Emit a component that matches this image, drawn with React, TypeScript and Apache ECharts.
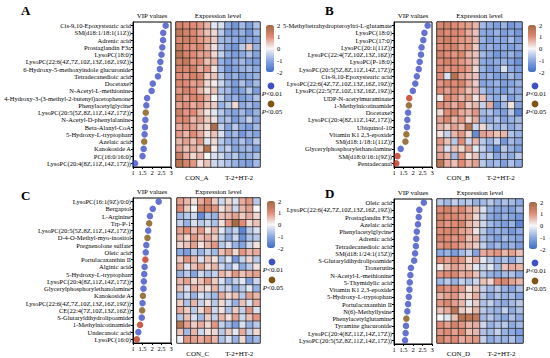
import React, { useEffect, useRef } from 'react';
import * as echarts from 'echarts';

// ---------- DATA ----------
const namesA = [
  'Cis-9,10-Epoxystearic acid', 'SM(d18:1/18:1(11Z))', 'Adrenic acid', 'Prostaglandin F3a', 'LysoPC(18:0)',
  'LysoPC(22:6(4Z,7Z,10Z,13Z,16Z,19Z))', '6-Hydroxy-5-methoxyindole glucuronide', 'Tetradecanedioic acid', 'Docetaxel',
  'N-Acetyl-L-methionine', '4-Hydroxy-3-(3-methyl-2-butenyl)acetophenone', 'Phenylacetylglycine',
  'LysoPC(20:5(5Z,8Z,11Z,14Z,17Z))', 'N-Acetyl-D-phenylalanine', 'Beta-Alanyl-CoA', '5-Hydroxy-L-tryptophan',
  'Azelaic acid', 'Kanokoside A', 'PC(16:0/16:0)', 'LysoPC(20:4(8Z,11Z,14Z,17Z))'
];
const vipA = [2.72, 2.59, 2.58, 2.54, 2.5, 2.44, 2.41, 2.31, 2.04, 1.98, 1.74, 1.7, 1.67, 1.65, 1.63, 1.61, 1.59, 1.56, 1.5, 1.11];
const sigA = ['b','b','b','b','b','b','b','b','b','b','b','b','o','b','b','b','o','b','b','b'];
const exprA = [
  [1.2, 1.0, 1.0, 0.9, 0.6, -0.2, -0.3, -1.0, -1.3, -0.8, -1.2, -0.7],
  [1.5, 1.2, 1.1, 0.8, 0.5, 0.3, -0.6, -1.2, -1.1, -0.9, -1.3, -0.8],
  [1.1, 1.3, 1.2, 0.9, 0.7, 0.4, -0.8, -0.9, -1.0, -1.2, -1.0, -1.1],
  [1.4, 1.0, 0.9, 1.1, 0.6, 0.2, -0.7, -1.1, -1.3, -0.6, 0.4, -0.9],
  [1.6, 1.2, 1.0, 0.8, 0.8, 0.3, -0.5, -1.0, -1.2, -1.0, -0.7, -1.1],
  [1.3, 1.5, 0.9, 1.0, 0.5, 0.6, -0.9, -1.2, -1.0, -0.8, -1.1, -1.2],
  [1.2, 1.1, 1.3, 0.7, 0.9, 0.2, -0.8, -1.3, -1.1, -0.9, -0.8, -1.0],
  [1.0, 0.9, 1.2, 1.1, 0.4, 0.5, -0.6, -1.1, -0.9, -1.2, -1.0, -0.9],
  [1.1, 1.0, 0.8, 0.9, 0.3, 0.1, -0.4, -0.9, -1.2, -0.7, -1.1, -0.8],
  [0.9, 1.2, 1.0, 0.6, 0.2, 0.5, -0.7, -0.8, -1.3, -1.1, -0.6, -1.2],
  [1.2, 0.8, 1.1, 1.0, 0.6, 0.0, -0.5, -1.0, -0.9, -1.2, -1.0, -0.7],
  [0.8, 1.0, 0.7, 0.9, 0.5, 0.4, -0.9, -0.6, 0.3, -1.0, -0.8, -1.1],
  [1.3, 0.9, 1.0, 0.6, 0.2, -0.2, -0.6, -1.0, -1.1, -0.8, -1.2, -0.9],
  [1.0, 1.1, 0.6, 0.8, 0.4, 0.2, -0.8, -0.7, -1.2, -0.9, -0.5, -1.0],
  [0.7, 0.9, 0.8, 0.5, 0.3, 1.8, -0.5, -1.1, -0.6, -1.0, -1.2, -0.8],
  [0.9, 0.6, 1.0, 0.7, 0.2, 0.5, -0.3, -1.0, -0.8, -1.3, -0.9, -1.1],
  [0.6, 0.8, 0.5, 0.9, -0.2, 0.3, -0.6, -0.9, -1.0, -0.7, -1.1, -0.6],
  [0.8, 0.5, 0.7, 0.4, 1.7, 0.1, -0.7, -0.5, -1.1, -0.9, -0.8, -1.2],
  [1.4, 0.7, 0.3, 0.6, 0.0, -0.3, -0.4, -0.8, -0.6, -1.0, -0.9, -0.7],
  [1.6, 1.2, 0.9, 0.2, 0.5, -0.4, -0.5, -0.7, -0.9, -1.1, -1.2, -0.8]
];

const namesB = [
  '5-Methyltetrahydropteroyltri-L-glutamate', 'LysoPC(18:0)', 'LysoPC(17:0)', 'LysoPC(20:1(11Z))',
  'LysoPC(22:4(7Z,10Z,13Z,16Z))', 'LysoPC(P-18:0)', 'LysoPC(20:5(5Z,8Z,11Z,14Z,17Z))', 'Cis-9,10-Epoxystearic acid',
  'LysoPC(22:6(4Z,7Z,10Z,13Z,16Z,19Z))', 'LysoPC(22:5(7Z,10Z,13Z,16Z,19Z))', 'UDP-N-acetylmuraminate',
  '1-Methylnicotinamide', 'Docetaxel', 'LysoPC(20:4(8Z,11Z,14Z,17Z))', 'Ubiquinol-10', 'Vitamin K1 2,3-epoxide',
  'SM(d18:1/18:1(11Z))', 'Glycerylphosphorylethanolamine', 'SM(d18:0/16:1(9Z))', 'Pentadecanal'
];
const vipB = [2.77, 2.6, 2.54, 2.45, 2.42, 2.35, 2.3, 2.2, 2.12, 1.99, 1.8, 1.78, 1.74, 1.7, 1.68, 1.65, 1.6, 1.35, 1.18, 1.12];
const sigB = ['b','b','b','b','b','b','b','b','b','b','r','o','b','b','b','o','o','b','r','r'];
const exprB = [
  [1.1, 1.2, 1.0, 0.9, 0.8, 0.6, -0.8, -1.0, -1.2, -0.9, -1.3, -1.1],
  [1.2, 1.0, 1.1, 1.0, 0.7, 0.5, -1.0, -1.1, -0.9, -1.2, -1.0, -1.3],
  [1.1, 1.3, 1.0, 0.9, 0.8, 0.6, -0.9, -1.2, -1.0, -1.1, -0.8, -1.2],
  [1.0, 1.1, 1.2, 0.8, 0.9, 0.4, -1.1, -0.9, -1.1, -1.0, -1.2, -1.0],
  [1.2, 1.0, 0.9, 1.1, 0.6, 0.5, -0.8, -1.0, -1.3, -1.1, -0.9, -1.2],
  [1.0, 1.2, 1.1, 0.9, 0.7, 0.5, -1.0, -1.1, -1.0, -0.9, -1.1, -1.4],
  [1.1, 0.9, 1.0, 1.0, 0.8, 0.3, -0.9, -1.2, -1.1, -0.3, -1.0, -1.2],
  [1.0, -0.3, 1.7, 0.8, 0.6, 0.5, -1.0, -0.9, -1.2, -1.1, -0.8, -1.1],
  [0.9, 1.1, 1.0, 1.2, 0.7, 0.4, -1.1, -1.0, -0.9, -1.2, -1.1, -0.9],
  [1.0, 0.8, 1.1, 0.9, 0.5, 0.6, -0.7, -1.1, -1.0, -1.3, -0.9, -1.0],
  [0.1, 1.0, 0.9, 0.6, 0.8, 0.2, 0.5, -0.8, -1.0, -0.6, -1.2, -0.9],
  [1.0, 0.9, 0.7, 1.1, 0.4, 0.6, -0.5, 0.7, -1.4, -0.8, 0.2, -1.1],
  [0.3, 1.0, 1.2, 0.7, 0.6, 0.9, -0.8, -0.7, -1.0, -1.2, -0.6, -1.6],
  [0.8, 1.1, 0.6, 0.9, 0.3, 0.7, -0.9, -1.0, -0.7, -1.1, -0.9, -0.8],
  [0.6, 0.4, 0.8, 0.5, 1.6, -0.4, 0.3, -0.6, -0.9, -0.7, -1.0, -0.8],
  [0.2, -0.5, 0.6, 0.9, 0.3, -1.5, 0.8, 0.7, 0.5, 0.6, -0.7, -0.9],
  [0.9, 0.5, -0.6, 1.0, -0.4, 0.6, -0.6, -0.9, -0.5, -1.3, -0.8, -1.0],
  [0.7, -0.3, 0.5, 0.3, 0.8, -0.2, -0.5, -1.0, -1.5, -0.6, -0.9, -1.2],
  [0.8, 0.6, -0.8, 0.9, 0.2, 0.5, -0.7, -0.5, -1.1, -0.8, -1.0, -0.6],
  [1.6, 0.7, 0.5, 1.0, 0.6, 0.8, -0.6, -0.9, -0.8, -1.2, -0.7, -1.0]
];

const namesC = [
  'LysoPC(16:1(9Z)/0:0)', 'Bergaptol', 'L-Arginine', 'Trp-P-1', 'LysoPC(20:5(5Z,8Z,11Z,14Z,17Z))',
  'D-4-O-Methyl-myo-inositol', 'Pregnenolone sulfate', 'Oleic acid', 'Portulacaxanthin II', 'Alginic acid',
  '5-Hydroxy-L-tryptophan', 'LysoPC(20:4(8Z,11Z,14Z,17Z))', 'Glycerylphosphorylethanolamine', 'Kanokoside A',
  'LysoPC(22:6(4Z,7Z,10Z,13Z,16Z,19Z))', 'CE(22:4(7Z,10Z,13Z,16Z))', 'S-Glutaryldihydrolipoamide',
  '1-Methylnicotinamide', 'Undecanoic acid', 'LysoPC(16:0)'
];
const vipC = [2.35, 2.04, 1.89, 1.85, 1.8, 1.76, 1.7, 1.67, 1.65, 1.61, 1.59, 1.57, 1.55, 1.52, 1.5, 1.48, 1.46, 1.37, 1.28, 1.2];
const sigC = ['b','b','b','o','b','o','b','b','r','b','b','b','b','o','b','o','b','r','b','r'];
const exprC = [
  [0.8, 0.6, 0.2, 0.7, 1.0, 0.4, -0.4, 0.3, -0.3, 0.7, 0.9, -0.6],
  [1.0, 0.4, 0.0, 1.2, 1.1, 0.9, 0.2, 0.5, -0.4, 0.6, 0.8, 0.0],
  [-0.8, -0.6, -0.4, -1.5, -0.7, -0.9, 0.5, 0.6, 0.8, 0.4, 0.7, 0.3],
  [-0.5, -0.9, -0.3, -0.6, -0.4, -0.7, 0.2, 0.9, 1.9, 1.0, 0.3, 0.5],
  [0.8, 1.0, 0.5, 0.9, 0.2, 0.6, -0.2, -0.8, -0.5, -1.6, -0.6, -0.3],
  [0.6, 0.3, 0.9, 0.5, 0.7, 0.4, -0.5, -1.0, -0.4, -1.4, -0.7, -0.6],
  [0.3, 0.5, 0.8, 0.2, 0.6, 0.9, -0.6, -0.3, -0.9, -1.1, -0.4, 0.2],
  [-1.0, -1.2, -0.6, -0.9, -0.5, -0.8, 0.5, 0.8, 0.3, 0.9, 0.6, 0.7],
  [0.4, 0.9, 0.6, -0.3, 0.5, 0.2, -0.7, -0.2, -1.3, -0.5, 0.3, -0.6],
  [0.7, -0.2, 0.5, 0.8, 0.3, 0.6, -0.4, -0.8, -0.2, -1.0, -0.6, 0.2],
  [-0.9, -0.6, -1.1, -0.4, -0.7, -0.5, 0.6, 0.4, 0.9, 0.5, 0.7, 0.8],
  [0.6, 0.8, 0.3, 0.5, 0.9, 0.4, -0.3, -0.9, -0.5, -0.2, -1.2, -0.4],
  [0.5, -0.3, 0.7, 0.4, 0.2, 0.6, -0.5, -0.4, -1.0, -0.6, -0.2, -0.9],
  [-0.7, -0.4, -0.9, -0.3, -0.6, -0.8, 0.7, 0.3, 0.5, -0.6, 0.8, 0.6],
  [0.4, -0.7, 0.6, -0.5, 0.2, -0.6, 0.3, -0.4, -0.9, 0.5, -0.3, 0.7],
  [0.7, 0.4, -0.6, 0.3, 0.8, -0.4, 0.2, -0.7, 0.4, -0.5, 0.9, -0.3],
  [-0.6, 0.5, -0.3, -0.8, 0.4, -0.5, 0.6, 0.2, 0.8, -0.4, 0.5, 0.9],
  [1.6, 0.8, 0.4, 0.7, 0.3, 0.9, -0.5, -0.8, -1.2, -0.3, -0.9, -0.6],
  [0.5, -0.8, 0.6, -0.4, 0.2, 0.3, -0.6, 0.4, -0.2, 0.7, -0.5, 0.3],
  [-0.1, 0.9, 0.8, 0.7, 0.9, 0.6, -0.7, -0.3, -0.9, 0.3, -1.1, -0.8]
];

const namesD = [
  'Oleic acid', 'LysoPC(22:6(4Z,7Z,10Z,13Z,16Z,19Z))', 'Prostaglandin F3a', 'Azelaic acid', 'Phenylacetylglycine',
  'Adrenic acid', 'Tetradecanedioic acid', 'SM(d18:1/24:1(15Z))', 'S-Glutaryldihydrolipoamide', 'Troxerutin',
  'N-Acetyl-L-methionine', '5-Thymidylic acid', 'Vitamin K1 2,3-epoxide', '5-Hydroxy-L-tryptophan',
  'Portulacaxanthin II', 'N(6)-Methyllysine', 'Phenylacetylglutamine', 'Tyramine glucuronide',
  'LysoPC(20:4(8Z,11Z,14Z,17Z))', 'LysoPC(20:5(5Z,8Z,11Z,14Z,17Z))'
];
const vipD = [2.57, 2.33, 2.3, 2.26, 2.2, 2.17, 2.15, 2.11, 2.06, 1.89, 1.86, 1.83, 1.81, 1.78, 1.74, 1.7, 1.65, 1.63, 1.61, 1.58];
const sigD = ['b','b','b','b','b','b','b','b','b','b','b','b','b','b','b','b','o','b','b','b'];
const exprD = [
  [-0.6, -0.8, -0.5, -0.7, -0.6, -0.9, -0.8, -0.6, -0.9, -0.7, -0.8, -1.0],
  [1.0, 1.2, 0.9, 1.1, 0.7, 0.5, -0.3, -0.9, -1.1, -1.0, -1.2, -0.8],
  [1.2, 1.0, 1.1, 0.9, 0.8, 0.3, -0.5, -1.0, -1.2, -0.9, -1.1, -1.3],
  [1.1, 0.9, 1.0, 1.2, 0.6, 0.4, -0.4, -0.8, -1.0, -1.2, -0.9, -1.6],
  [1.0, 1.1, 1.2, 0.8, 0.7, 0.2, -0.6, -1.1, -0.9, -1.0, -1.3, -1.0],
  [1.2, 1.0, 0.9, 1.0, 0.5, 0.6, -0.7, -0.9, -1.2, -0.8, -1.0, -1.1],
  [0.9, 1.1, 1.0, 0.8, 0.6, 0.4, -0.5, -1.0, -0.8, -1.1, -0.9, -1.2],
  [-1.0, -0.9, -1.2, -0.8, -0.5, -1.1, 0.7, 0.8, 0.9, 0.6, 0.8, 0.5],
  [1.0, 0.8, 1.1, 0.9, 0.3, 0.7, -0.2, -0.6, -0.9, -0.7, -1.0, -0.5],
  [0.1, 0.5, 0.8, 0.6, 0.4, -0.2, -0.4, -0.2, -0.8, 0.5, 0.7, 0.6],
  [0.9, 1.0, 1.1, 0.7, 0.8, 0.5, -0.6, -0.9, -1.0, -0.8, -0.7, -1.0],
  [-0.8, -0.6, -0.9, -0.5, -0.7, -0.4, 0.5, 0.3, 1.0, 1.1, 0.8, 0.6],
  [1.1, 0.9, 1.0, 0.8, 0.2, 0.5, -0.5, -0.8, -0.6, -0.9, -1.1, -0.7],
  [0.6, 0.8, 0.9, 0.5, 0.3, 0.7, -0.6, -1.0, -0.7, -0.9, -0.8, -1.1],
  [0.9, 1.1, 0.8, 0.6, -0.2, 0.4, -0.7, -0.5, -0.9, -1.0, -0.8, -0.6],
  [0.5, 0.7, 1.6, 0.4, 0.2, 0.6, -0.6, -0.8, -0.9, -0.5, -1.0, -0.7],
  [0.0, -0.2, 0.5, 1.7, 1.6, 1.5, -0.8, -0.6, -0.9, -1.1, -0.7, -1.0],
  [1.0, 0.8, 1.2, 0.9, 0.6, 0.7, -0.4, -0.9, -0.7, -0.6, -1.0, -0.8],
  [0.9, 1.0, 0.8, 1.1, 0.5, 0.6, -0.7, -0.8, -0.5, -0.9, -1.0, -1.2],
  [1.2, 0.9, 1.0, 0.7, 0.8, 0.9, -0.5, -1.0, -0.8, -0.9, -0.7, -1.1]
];

const vipTicks = [1, 1.5, 2, 2.5, 3];
const colorTicks = [2, 1, 0, -1, -2];
const groupNames = ['CON', 'T-2+HT-2'];
const legendLabels = ['0.01', '0.05'];

// ---------- STYLE / LAYOUT ----------
const FONT = "'Liberation Serif', 'Times New Roman', serif";
const sigColor: Record<string, string> = { b: '#3f4fc6', o: '#7e5514', r: '#c0321c' };
const heatColors = ['#3e6ec7', '#8eaae2', '#f7f7f7', '#e18b76', '#a2683f'];

const panels = [
  { key: 'A', names: namesA, vip: vipA, sig: sigA, expr: exprA, vipLeft: 133, heatLeft: 176, heatW: 84, top: 22, cbLeft: 266, letterX: 21, letterY: 4, legX: 271 },
  { key: 'B', names: namesB, vip: vipB, sig: sigB, expr: exprB, vipLeft: 394, heatLeft: 437, heatW: 85, top: 22, cbLeft: 528, letterX: 325, letterY: 4, legX: 535 },
  { key: 'C', names: namesC, vip: vipC, sig: sigC, expr: exprC, vipLeft: 133, heatLeft: 177, heatW: 83, top: 198, cbLeft: 267, letterX: 21, letterY: 189, legX: 272 },
  { key: 'D', names: namesD, vip: vipD, sig: sigD, expr: exprD, vipLeft: 394, heatLeft: 437, heatW: 86, top: 199, cbLeft: 529, letterX: 325, letterY: 187, legX: 535 }
];
const VIP_W = 38;
const PANEL_H = 145;
const CB_W = 8;
const CB_H = 47;

function buildOption() {
  const grid: any[] = [];
  const xAxis: any[] = [];
  const yAxis: any[] = [];
  const series: any[] = [];
  const visualMap: any[] = [];
  const graphic: any[] = [];
  const rowIdx = namesA.map((_, i) => String(i));
  const colIdx = [0, 1, 2, 3, 4, 5].map(String);

  panels.forEach((p, pi) => {
    const g0 = pi * 3;
    grid.push({ left: p.vipLeft, top: p.top, width: VIP_W, height: PANEL_H, show: true, borderColor: '#000', borderWidth: 1, backgroundColor: 'transparent' });
    const halfW = p.heatW / 2;
    grid.push({ left: p.heatLeft, top: p.top, width: halfW, height: PANEL_H, show: true, borderColor: '#000', borderWidth: 1 });
    grid.push({ left: p.heatLeft + halfW, top: p.top, width: halfW, height: PANEL_H, show: true, borderColor: '#000', borderWidth: 1 });

    xAxis.push({
      type: 'value', gridIndex: g0, min: vipTicks[0], max: vipTicks[vipTicks.length - 1], interval: 0.5,
      axisLine: { show: true, lineStyle: { color: '#000', width: 1 } },
      axisTick: { show: true, length: 2, lineStyle: { color: '#000' } },
      axisLabel: { fontSize: 6.5, fontFamily: FONT, color: '#000', margin: 2 },
      splitLine: { show: false }
    });
    yAxis.push({
      type: 'category', gridIndex: g0, data: p.names, inverse: true,
      axisLine: { show: true, lineStyle: { color: '#000', width: 1 } },
      axisTick: { show: true, length: 2, alignWithLabel: true, lineStyle: { color: '#000' } },
      axisLabel: { fontSize: 6.5, fontFamily: FONT, color: '#000', margin: 2, interval: 0 },
      splitLine: { show: false }
    });
    [0, 1].forEach((h) => {
      xAxis.push({
        type: 'category', gridIndex: g0 + 1 + h, data: colIdx,
        axisLine: { show: false }, axisTick: { show: false }, axisLabel: { show: false }, splitLine: { show: false },
        name: h === 0 ? `${groupNames[0]}_${p.key}` : groupNames[1], nameLocation: 'middle', nameGap: 7,
        nameTextStyle: { fontSize: 7, fontFamily: FONT, color: '#000' }
      });
      yAxis.push({
        type: 'category', gridIndex: g0 + 1 + h, data: rowIdx, inverse: true,
        axisLine: { show: false }, axisTick: { show: false }, axisLabel: { show: false }, splitLine: { show: false }
      });
    });

    series.push({
      type: 'scatter', xAxisIndex: g0, yAxisIndex: g0, symbolSize: 6.5,
      data: p.vip.map((v, i) => ({ value: [v, p.names[i]], itemStyle: { color: sigColor[p.sig[i]] } }))
    });
    const heatSeriesIdx: number[] = [];
    [0, 1].forEach((h) => {
      const data: any[] = [];
      p.expr.forEach((row, r) => {
        row.forEach((v, c) => {
          if ((c < 6 && h === 0) || (c >= 6 && h === 1)) data.push([c - h * 6, r, v]);
        });
      });
      heatSeriesIdx.push(series.length);
      series.push({
        type: 'heatmap', xAxisIndex: g0 + 1 + h, yAxisIndex: g0 + 1 + h, data,
        itemStyle: { borderColor: '#262626', borderWidth: 0.7 }
      });
    });
    const cbTop = p.top + 3;
    visualMap.push({
      type: 'continuous', seriesIndex: heatSeriesIdx, min: -2, max: 2, calculable: false,
      left: p.cbLeft, top: cbTop, itemWidth: CB_W, itemHeight: CB_H, padding: 0, text: null, showLabel: false,
      inRange: { color: heatColors }
    });
    colorTicks.forEach((t) => {
      graphic.push({
        type: 'text', x: p.cbLeft + CB_W + 3, y: cbTop + ((2 - t) / 4) * CB_H,
        style: { text: String(t), fontSize: 6.5, fontFamily: FONT, fill: '#000', align: 'left', verticalAlign: 'middle', textAlign: 'left', textVerticalAlign: 'middle' }
      });
    });
    const txt = (text: string, x: number, y: number, size: number) => ({
      type: 'text', x, y,
      style: { text, fontSize: size, fontFamily: FONT, fill: '#000', align: 'center', verticalAlign: 'middle', textAlign: 'center', textVerticalAlign: 'middle' }
    });
    graphic.push(txt('VIP values', p.vipLeft + VIP_W / 2, p.top - 6, 7));
    graphic.push(txt('Expression level', p.heatLeft + p.heatW / 2, p.top - 6, 7));
    graphic.push({
      type: 'text', x: p.letterX, y: p.letterY,
      style: { text: p.key, fontSize: 13, fontFamily: FONT, fontWeight: 'bold', fill: '#000', align: 'left', verticalAlign: 'top', textAlign: 'left', textVerticalAlign: 'top' }
    });
    const legColors = [sigColor.b, sigColor.o];
    legColors.forEach((c, k) => {
      const cy = p.top + 64 + k * 18;
      graphic.push({ type: 'circle', shape: { cx: p.legX, cy, r: 3.4 }, style: { fill: c } });
      graphic.push({
        type: 'text', x: p.legX + 1, y: cy + 8,
        style: {
          text: `{i|P}<${legendLabels[k]}`, fontSize: 7, fontFamily: FONT, fill: '#000',
          align: 'center', verticalAlign: 'middle', textAlign: 'center', textVerticalAlign: 'middle',
          rich: { i: { fontStyle: 'italic', fontSize: 7, fontFamily: FONT, fill: '#000' } }
        }
      });
    });
  });

  return { animation: false, backgroundColor: '#fff', grid, xAxis, yAxis, series, visualMap, graphic };
}

export default function App() {
  const ref = useRef<HTMLDivElement>(null);
  useEffect(() => {
    if (!ref.current) return;
    const chart = echarts.init(ref.current, undefined, { renderer: 'svg' });
    chart.setOption(buildOption() as any);
    return () => chart.dispose();
  }, []);
  return <div ref={ref} style={{ position: 'fixed', left: 0, top: 0, width: 550, height: 358 }} />;
}
